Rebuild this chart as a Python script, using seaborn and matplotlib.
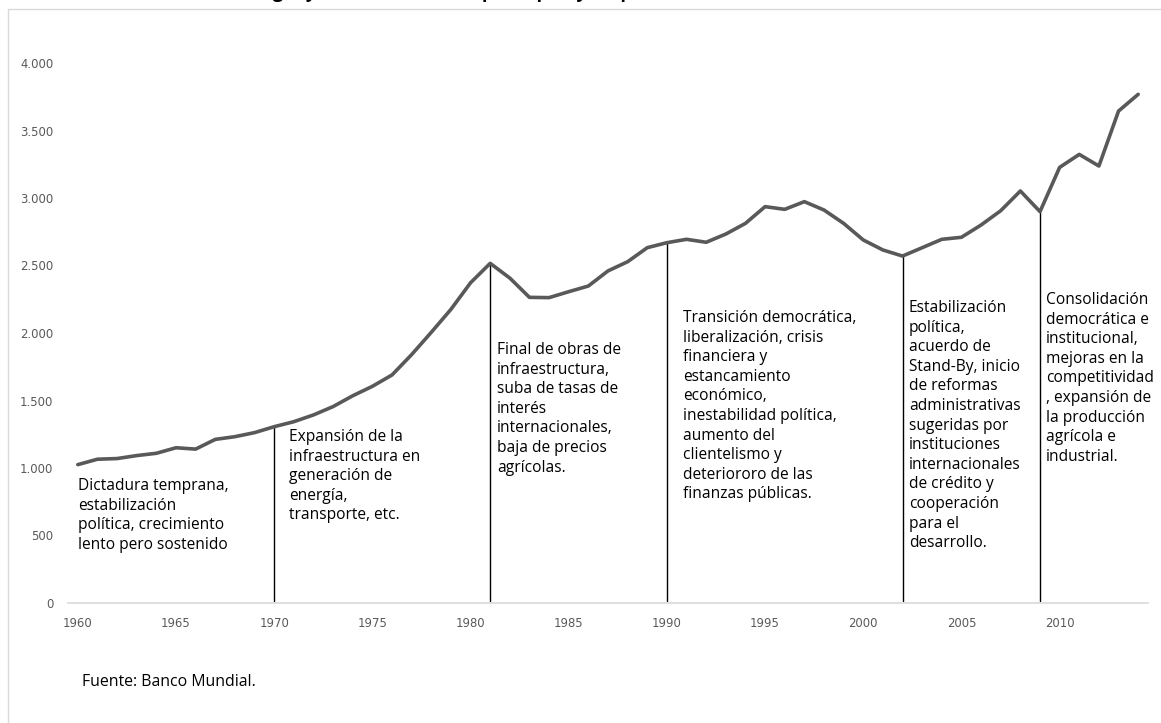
import matplotlib
matplotlib.use("Agg")
import matplotlib.pyplot as plt
import seaborn as sns
import pandas as pd
from matplotlib.patches import Rectangle
from matplotlib.ticker import FuncFormatter

# ---------------- data ----------------
years = list(range(1960, 2015))
gdp_pc = [1025, 1065, 1070, 1092, 1109, 1150, 1140, 1212, 1232, 1262,
          1306, 1343, 1393, 1455, 1535, 1605, 1689, 1840, 2005, 2175,
          2372, 2516, 2407, 2264, 2262, 2306, 2348, 2460, 2528, 2632,
          2669, 2694, 2672, 2733, 2812, 2936, 2916, 2973, 2911, 2812,
          2689, 2615, 2570, 2632, 2694, 2709, 2800, 2906, 3052, 2899,
          3227, 3323, 3237, 3644, 3768]
x_ticks = [1960, 1965, 1970, 1975, 1980, 1985, 1990, 1995, 2000, 2005, 2010]
y_ticks = [0, 500, 1000, 1500, 2000, 2500, 3000, 3500, 4000]
event_years = [1970, 1981, 1990, 2002, 2009]
period_texts = [
    "Dictadura temprana,\nestabilización\npolítica, crecimiento\nlento pero sostenido",
    "Expansión de la\ninfraestructura en\ngeneración de\nenergía,\ntransporte, etc.",
    "Final de obras de\ninfraestructura,\nsuba de tasas de\ninterés\ninternacionales,\nbaja de precios\nagrícolas.",
    "Transición democrática,\nliberalización, crisis\nfinanciera y\nestancamiento\neconómico,\ninestabilidad política,\naumento del\nclientelismo y\ndeteriororo de las\nfinanzas públicas.",
    "Estabilización\npolítica,\nacuerdo de\nStand-By, inicio\nde reformas\nadministrativas\nsugeridas por\ninstituciones\ninternacionales\nde crédito y\ncooperación\npara el\ndesarrollo.",
    "Consolidación\ndemocrática e\ninstitucional,\nmejoras en la\ncompetitividad\n, expansión de\nla producción\nagrícola e\nindustrial.",
]
title_text = "Paraguay, evolución del PIB per cápita y etapas históricas del desarrollo, 1960-2014"
source_text = "Fuente: Banco Mundial."

# ---------------- layout (pixels) ----------------
W, H = 1161, 723
text_pos_px = [(78, 478), (289, 429), (497, 342), (683, 310), (909, 300), (1046, 292)]

sns.set_style("white")
plt.rcParams["font.family"] = ["Open Sans", "DejaVu Sans"]

fig = plt.figure(figsize=(W / 100, H / 100), dpi=100)
ax = fig.add_axes([68 / W, 1 - 603 / H, (1148 - 68) / W, (603 - 63) / H])

df = pd.DataFrame({"year": years, "gdp": gdp_pc})
sns.lineplot(data=df, x="year", y="gdp", ax=ax, color="#595959", linewidth=2.6,
             solid_joinstyle="round", solid_capstyle="round")

gdp_by_year = dict(zip(years, gdp_pc))
for yr in event_years:
    ax.plot([yr, yr], [15, gdp_by_year[yr]], color="black", linewidth=1.0, zorder=1)

ax.set_xlim(1959.5, 2014.5)
ax.set_ylim(0, 4000)
ax.set_xticks(x_ticks)
ax.set_yticks(y_ticks)
ax.yaxis.set_major_formatter(FuncFormatter(lambda v, p: f"{int(v):,}".replace(",", ".")))
ax.tick_params(axis="both", length=0, labelsize=8.4, labelcolor="#595959")
ax.tick_params(axis="x", pad=10)
ax.tick_params(axis="y", pad=10.5)
for lab in ax.get_xticklabels() + ax.get_yticklabels():
    lab.set_fontfamily("DejaVu Sans")
ax.set_xlabel("")
ax.set_ylabel("")
for s in ["top", "right", "left"]:
    ax.spines[s].set_visible(False)
ax.spines["bottom"].set_color("#d9d9d9")
ax.spines["bottom"].set_linewidth(1.2)
ax.grid(False)
ax.patch.set_alpha(0)

for txt, (px, py) in zip(period_texts, text_pos_px):
    fig.text(px / W, 1 - py / H, txt, ha="left", va="top", fontsize=11.2,
             color="black", linespacing=1.3)

fig.text(82 / W, 1 - 682 / H, source_text, ha="left", va="center", fontsize=11.4, color="black")

# chart-area border (cropped at right and bottom in the reference)
fig.patches.append(Rectangle((7.5 / W, -0.1), 1.2, 1 - 9.5 / H + 0.1, transform=fig.transFigure,
                             fill=False, edgecolor="#d9d9d9", linewidth=1.0))

# title mostly cut off at the top
fig.text(600 / W, 1 + 1.5 / H, title_text, ha="center", va="baseline", fontsize=13,
         fontweight="bold", color="black")

fig.savefig("out.png", dpi=100)
